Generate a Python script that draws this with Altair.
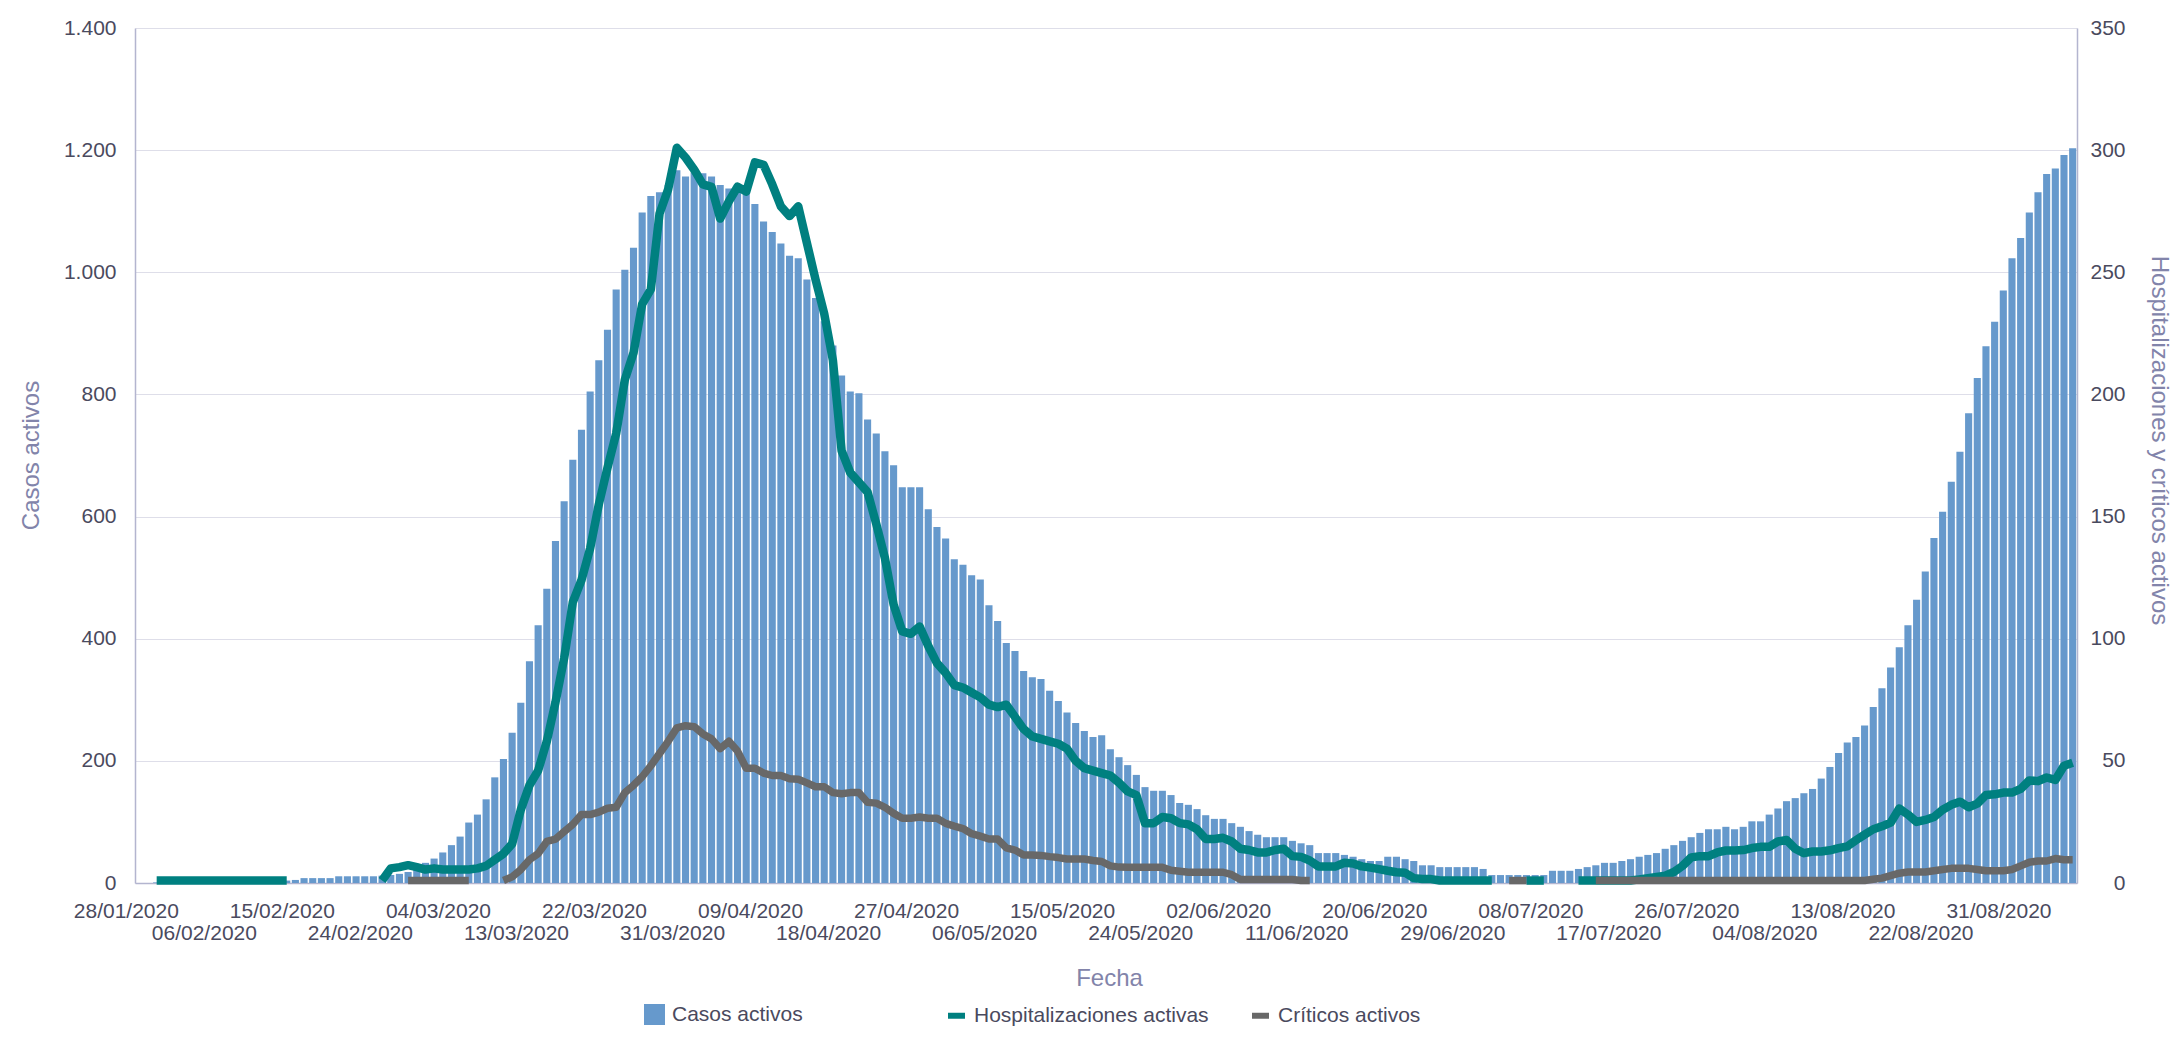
import json
import altair as alt
import pandas as pd

# ---------------- data ----------------
fechas = pd.date_range("2020-01-28", periods=224, freq="D").strftime("%d/%m/%Y").tolist()

casos_activos = (
    [0, 0] + [1] * 15 +
    [4, 5, 8, 8, 8, 8, 11, 11, 11, 11, 11, 12, 13, 15, 18, 23] +
    [33, 40, 50, 62, 76, 99, 112, 137, 173, 203, 246, 295, 363, 422, 482, 560, 625, 693, 742, 805,
     856, 906, 972, 1004, 1040, 1098, 1125, 1131, 1143, 1167, 1157, 1164, 1162, 1157, 1143, 1137,
     1135, 1131, 1112] +
    [1083, 1066, 1047, 1027, 1023, 988, 958, 920, 880, 831, 805, 802, 759, 736, 707, 684, 648, 648,
     648, 612, 583, 564, 530, 521, 504, 497, 455, 429, 393, 380, 347, 337, 334, 315, 298, 279, 262,
     249, 239, 242] +
    [219, 206, 193, 177, 157, 151, 151, 144, 131, 128, 121, 111, 105, 105, 98, 92, 85, 79, 75, 75,
     75, 69, 65, 62, 49, 49, 49, 46, 43, 39, 36, 36, 43, 43, 39, 36, 29, 29, 26, 26, 26, 26, 26, 23] +
    [13] * 7 + [20] * 3 +
    [23, 26, 29, 33, 33, 36, 39, 43, 46, 49, 56, 62, 69, 75, 82, 88, 88, 92, 88, 92, 101, 101, 112,
     122, 134, 139, 147, 154, 171, 190, 213, 230, 239, 258, 288, 319, 353, 386, 422, 464, 510, 565,
     608, 657, 706, 769, 827, 879, 919, 970, 1023, 1056, 1098, 1131, 1161, 1170, 1192, 1203]
)

hospitalizaciones = (
    [None] * 2 + [1] * 16 + [None] * 10 +
    [1, 6, 6.5, 7.3, 6.5, 5.5, 6, 5.5, 5.5, 5.5, 5.5, 6, 7, 9.5, 12, 16, 30, 40] +
    [46, 58, 74, 92, 115, 124, 137, 155, 170, 184, 206, 217, 237, 243, 274, 284, 301, 297, 292,
     286, 285, 272, 279, 285, 283, 295] +
    [294, 286, 277, 273, 277, 262, 247, 233, 214, 177, 168, 164, 160, 147, 133, 114, 103, 102, 105,
     97, 90, 86, 81, 80, 78, 76, 73, 72, 73, 68, 63, 60, 59, 58, 57, 55, 50, 47, 46, 45] +
    [44, 41, 37.5, 36, 24.5, 24.5, 27, 26.5, 24.5, 24, 22, 18, 18, 18.5, 17, 14, 13.5, 12.5, 12.5,
     13.5, 14, 11, 10.7, 9.2, 6.8, 6.8, 6.8, 8.3, 8, 6.8, 6.3, 5.7, 5, 4.4, 4.2, 2, 1.6, 1.6] +
    [1] * 7 + [None] * 3 + [1] * 3 + [None] * 3 + [1] * 7 +
    [1.5, 2, 2.5, 3, 4.5, 7, 10.5, 11, 11, 12.5, 13.3, 13.3, 13.5, 14.3, 14.8, 14.8, 17, 17.6, 14,
     12.2, 12.9, 12.9, 13.4, 14.3, 15, 17.5, 19.8, 22, 23.2, 24.7, 30.5, 28, 25, 25.8, 27, 30, 32,
     33.3, 31, 32.5, 36, 36.3, 37, 37, 38.5, 42, 41.7, 43.2, 42.2, 48, 49.2]
)

criticos = (
    [None] * 31 + [1] * 8 + [None] * 3 +
    [1, 2.5, 5.5, 9.5, 12, 17, 18, 21, 24, 28, 28, 29, 30.6, 31, 37, 40, 43.5, 48, 53, 58, 63.5,
     64.4, 64, 61, 59, 55, 58, 54, 47, 47] +
    [45, 44, 44, 42.7, 42.5, 41, 39.4, 39.4, 37, 36.5, 37, 37, 33, 32.7, 31, 28.5, 26.5, 26.5, 27,
     26.5, 26.5, 24.4, 23.3, 22.3, 20.2, 19.2, 18, 18, 14.4, 13.5, 11.5, 11.5, 11.3, 10.8, 10.4,
     9.8, 9.8, 9.8, 9.2, 8.8] +
    [7, 6.5, 6.4, 6.4, 6.4, 6.4, 6.4, 5.2, 4.8, 4.4, 4.4, 4.4, 4.4, 4.4, 3.4, 1.4, 1.4, 1.4, 1.4,
     1.4, 1.4, 1.4, 1, 1] +
    [None] * 22 + [1] * 3 + [None] * 7 + [1] * 32 +
    [1.5, 2, 3, 4, 4.5, 4.5, 4.5, 5, 5.5, 6, 6, 6, 5.5, 5, 5, 5, 5.5, 7, 8.5, 9, 9, 10, 9.5, 9.5]
)

K = "Casos activos"
H = "Hospitalizaciones activas"
C = "Críticos activos"

# ---------------- tables ----------------
n = len(fechas)
df_bar = pd.DataFrame({"fecha": fechas, "casos": casos_activos[:n]})

rows = []
for nombre, serie in [(H, hospitalizaciones), (C, criticos)]:
    tramo = 0
    dentro = False
    for f, v in zip(fechas, serie):
        if v is None:
            dentro = False
            continue
        if not dentro:
            tramo += 1
        dentro = True
        rows.append({"fecha": f, "valor": v, "serie": nombre, "tramo": f"{nombre}-{tramo}"})
df_lin = pd.DataFrame(rows)

# ---------------- styling ----------------
FONT = "Liberation Sans"
TICK = "#4a4a5e"
TITLE = "#8284aa"
AXIS = "#b3b5cf"
GRID = "#dedee9"
BLUE = "#6699cc"
TEAL = "#008080"
GREY = "#686868"

tick_vals = fechas[::9]
row2 = tick_vals[1::2]
label_expr = f"indexof({json.dumps(row2)}, datum.value) >= 0 ? [' ', datum.label] : datum.label"

x_scale = alt.Scale(domain=fechas, paddingInner=0.18, paddingOuter=0.09)
x_axis = alt.Axis(
    values=tick_vals, labelExpr=label_expr, labelAngle=0, labelOverlap=False, labelFlush=False,
    labelFontSize=21, labelColor=TICK, labelPadding=17, labelOffset=-13, labelLineHeight=22,
    labelBaseline="top", ticks=False, tickSize=0, domainColor=AXIS, domainWidth=1.5, grid=False,
    title="Fecha", titleFontSize=24, titleFontWeight="normal", titleColor=TITLE,
    titleX=974, titleY=95, titleBaseline="middle", titleAlign="center",
)

y_left_axis = alt.Axis(
    orient="left", values=list(range(0, 1401, 200)),
    labelExpr="replace(format(datum.value, ','), ',', '.')",
    labelFontSize=21, labelColor=TICK, labelPadding=19, ticks=False, tickSize=0,
    domainColor=AXIS, domainWidth=1.5, grid=True, gridColor=GRID, gridWidth=1.2,
    title=K, titleFontSize=24, titleFontWeight="normal", titleColor=TITLE,
    titleAngle=270, titleX=-104, titleY=427, titleBaseline="middle", titleAlign="center",
)

y_right_axis = alt.Axis(
    orient="right", values=list(range(0, 351, 50)), grid=False, ticks=False, tickSize=0,
    labelAlign="right", labelPadding=48, labelFontSize=21, labelColor=TICK,
    domainColor=AXIS, domainWidth=1.5,
    title="Hospitalizaciones y críticos activos", titleFontSize=24, titleFontWeight="normal",
    titleColor=TITLE, titleAngle=90, titleX=81, titleY=412, titleBaseline="middle",
    titleAlign="center",
)

fill_legend = alt.Legend(
    title=None, orient="none", legendX=509, legendY=976, symbolType="square", symbolSize=441,
    symbolStrokeWidth=0, labelFontSize=21, labelColor=TICK, labelOffset=7, padding=0,
    labelLimit=400,
)
stroke_legend = alt.Legend(
    title=None, orient="none", direction="horizontal", legendX=810, legendY=976,
    symbolType="stroke", symbolSize=289, symbolStrokeWidth=6, labelFontSize=21,
    labelColor=TICK, labelOffset=6, columnPadding=31, padding=0, labelLimit=400,
)

bars = (
    alt.Chart(df_bar)
    .transform_calculate(serie=f"'{K}'")
    .mark_bar(strokeWidth=0)
    .encode(
        x=alt.X("fecha:N", scale=x_scale, axis=x_axis, sort=None),
        y=alt.Y("casos:Q", scale=alt.Scale(domain=[0, 1400], nice=False), axis=y_left_axis),
        fill=alt.Fill("serie:N", scale=alt.Scale(domain=[K], range=[BLUE]), legend=fill_legend),
    )
)

stroke_scale = alt.Scale(domain=[H, C], range=[TEAL, GREY])
y_right = alt.Y("valor:Q", scale=alt.Scale(domain=[0, 350], nice=False), axis=y_right_axis)


def linea(nombre, ancho):
    return (
        alt.Chart(df_lin)
        .transform_filter(alt.datum.serie == nombre)
        .mark_line(strokeWidth=ancho, strokeJoin="round")
        .encode(
            x=alt.X("fecha:N", scale=x_scale, axis=x_axis, sort=None),
            y=y_right,
            stroke=alt.Stroke("serie:N", scale=stroke_scale, legend=stroke_legend),
            detail="tramo:N",
        )
    )


lineas = alt.layer(linea(H, 8.5), linea(C, 7.5))

chart = (
    alt.layer(bars, lineas)
    .resolve_scale(y="independent")
    .properties(
        width=1942,
        height=855,
        autosize=alt.AutoSizeParams(type="none"),
        padding={"left": 127, "top": 20, "right": 96, "bottom": 149},
    )
    .configure(font=FONT)
    .configure_view(strokeWidth=0)
)

chart.save("out.html", embed_options={"renderer": "svg", "actions": False})
